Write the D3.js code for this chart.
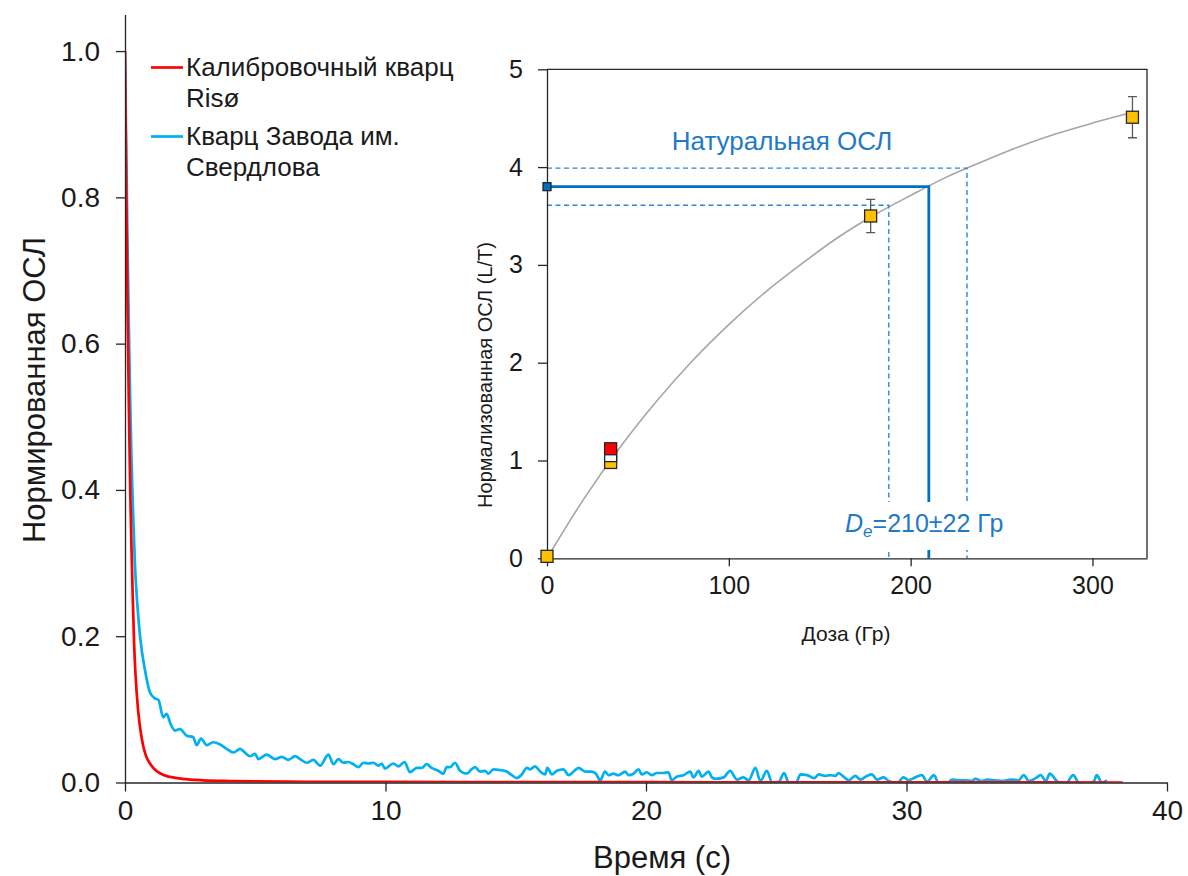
<!DOCTYPE html>
<html>
<head>
<meta charset="utf-8">
<script src="https://cdn.jsdelivr.net/npm/d3@7"></script>
<style>
  body { margin: 0; background: #fff; }
  text { font-family: "Liberation Sans", Arial, sans-serif; fill: #1a1a1a; }
</style>
</head>
<body>
<div id="chart"></div>
<script>
// ---- main chart data: OSL decay curves ----
var redT = [0, 0.05, 0.1, 0.15, 0.2, 0.25, 0.3, 0.35, 0.4, 0.5, 0.6, 0.7, 0.8, 1.0, 1.2, 1.5, 2, 2.5, 3, 4, 5, 7, 10, 15, 20, 25, 30, 35, 38.3];
var redV = [1.0, 0.80, 0.64, 0.51, 0.40, 0.32, 0.25, 0.19, 0.15, 0.10, 0.07, 0.05, 0.037, 0.024, 0.016, 0.010, 0.006, 0.004, 0.003, 0.002, 0.0015, 0.001, 0.0008, 0.0005, 0.0004, 0.0003, 0.0002, 0.0001, 0];

var blueT = [0, 0.05, 0.1, 0.15, 0.2, 0.25, 0.3, 0.38, 0.46, 0.58, 0.77, 0.96, 1.15, 1.28, 1.47, 1.6, 1.75, 1.92, 2.11, 2.37,
  2.62, 2.75, 2.92, 3.14, 3.39, 3.65, 3.9, 4.16, 4.42, 4.6, 4.8, 4.99, 5.12, 5.44, 5.76, 6.02, 6.27, 6.53, 6.72, 6.98,
  7.23, 7.49, 7.81, 8.0, 8.19, 8.38, 8.57, 8.77, 8.96, 9.15, 9.34, 9.53, 9.73, 9.85, 9.98, 10.3, 10.5, 10.73, 10.94, 11.2,
  11.39, 11.58, 11.77, 12.03, 12.22, 12.35, 12.48, 12.67, 12.86, 13.12, 13.3, 13.44, 13.63, 13.82, 13.95, 14.14, 14.4, 14.65, 14.85, 15.04,
  15.23, 15.43, 15.55, 15.74, 15.94, 16.13, 16.21, 16.39, 16.58, 16.83, 17.03, 17.22, 17.41, 17.67, 17.92, 18.08, 18.24, 18.43, 18.56, 18.75,
  18.94, 19.2, 19.33, 19.52, 19.71, 19.84, 20.03, 20.22, 20.42, 20.67, 20.86, 20.99, 21.18, 21.44, 21.7, 21.82, 22.02, 22.14, 22.4, 22.53,
  22.66, 22.98, 23.23, 23.49, 23.74, 23.94, 24.2, 24.39, 24.64, 24.84, 25.1, 25.3, 25.5, 25.74, 25.93, 26.19, 26.45, 26.64, 26.88, 27.07,
  27.27, 27.39, 27.58, 27.78, 28.03, 28.23, 28.48, 28.67, 28.87, 29.12, 29.32, 29.63, 29.89, 30.08, 30.34, 30.59, 30.79, 31.05, 31.24, 31.56,
  31.75, 32.0, 32.26, 32.5, 32.64, 32.9, 33.1, 33.4, 33.7, 34.0, 34.3, 34.5, 34.7, 34.96, 35.15, 35.35, 35.5, 35.8, 36.1, 36.4,
  36.6, 36.9, 37.2, 37.3, 37.5, 37.7];
var blueV = [1.0, 0.86, 0.73, 0.62, 0.52, 0.44, 0.38, 0.30, 0.25, 0.199, 0.153, 0.123, 0.115, 0.113, 0.089, 0.094, 0.080, 0.071, 0.073, 0.064,
  0.062, 0.051, 0.060, 0.051, 0.055, 0.052, 0.046, 0.041, 0.046, 0.041, 0.036, 0.039, 0.032, 0.038, 0.032, 0.035, 0.031, 0.036, 0.032, 0.027,
  0.031, 0.023, 0.038, 0.025, 0.032, 0.027, 0.028, 0.025, 0.021, 0.027, 0.026, 0.027, 0.023, 0.026, 0.019, 0.026, 0.022, 0.028, 0.014, 0.020,
  0.020, 0.025, 0.020, 0.016, 0.012, 0.021, 0.021, 0.027, 0.016, 0.012, 0.018, 0.021, 0.015, 0.016, 0.012, 0.018, 0.017, 0.015, 0.010, 0.006,
  0.011, 0.020, 0.018, 0.022, 0.015, 0.011, 0.020, 0.011, 0.016, 0.018, 0.010, 0.015, 0.020, 0.015, 0.015, 0.012, 0.003, 0.015, 0.010, 0.012,
  0.010, 0.015, 0.010, 0.012, 0.018, 0.011, 0.014, 0.010, 0.013, 0.013, 0.014, 0.003, 0.008, 0.010, 0.015, 0.007, 0.016, 0.008, 0.015, 0.007,
  0.005, 0.007, 0.016, 0.004, 0.007, 0.003, 0.020, 0.002, 0.016, 0.000, 0.001, 0.013, -0.002, -0.002, 0.011, 0.010, 0.006, 0.011, 0.009, 0.010,
  0.009, 0.013, 0.008, 0.003, 0.009, 0.004, 0.009, 0.011, 0.004, 0.007, 0.002, -0.001, 0.007, 0.003, 0.007, 0.010, 0.001, 0.010, -0.001, -0.001,
  0.004, 0.003, 0.003, 0.002, 0.005, 0.002, 0.004, 0.003, 0.002, 0.004, 0.003, 0.010, 0.002, 0.006, 0.010, 0.002, 0.012, 0.001, -0.002, 0.010,
  0.000, -0.003, 0.002, 0.010, 0.000, 0.003];

var mainXTicks = [0, 10, 20, 30, 40];
var mainYTicks = [0, 0.2, 0.4, 0.6, 0.8, 1.0];
var legendNames = [["Калибровочный кварц", "Risø"], ["Кварц Завода им.", "Свердлова"]];

// ---- inset data: dose response ----
var fitDose = [0, 20, 40, 60, 80, 100, 120, 140, 160, 180, 200, 220, 240, 260, 280, 300, 322];
var fitLn = [0, 0.60, 1.13, 1.60, 2.02, 2.39, 2.72, 3.01, 3.28, 3.51, 3.71, 3.90, 4.06, 4.21, 4.34, 4.45, 4.56];

var ptDose = [0, 35, 35, 35, 178, 322];
var ptLn = [0.02, 0.98, 1.05, 1.12, 3.50, 4.51];
var ptErr = [0, 0, 0, 0, 0.17, 0.21];
var ptKind = ["regen", "regen", "recycle", "repeat", "regen", "regen"];

var natLn = 3.80, natLnLow = 3.61, natLnHigh = 3.99;
var deDose = 210, deLow = 188, deHigh = 231, deErr = 22;

var insetXTicks = [0, 100, 200, 300];
var insetYTicks = [0, 1, 2, 3, 4, 5];

// ---- svg ----
var svg = d3.select("#chart").append("svg")
  .attr("width", 1188)
  .attr("height", 876);

var x = d3.scaleLinear().domain([0, 40]).range([125, 1167]);
var y = d3.scaleLinear().domain([0, 1.05]).range([782.5, 14.5]);

svg.append("clipPath").attr("id", "mainClip")
  .append("rect").attr("x", 125).attr("y", 0).attr("width", 1042).attr("height", 782.5);

var line = d3.line().x(d => x(d[0])).y(d => y(d[1])).curve(d3.curveMonotoneX);

var blueData = blueT.map((t, i) => [t, blueV[i]]);
var redData = redT.map((t, i) => [t, redV[i]]);

svg.append("path")
  .attr("d", line(blueData))
  .attr("clip-path", "url(#mainClip)")
  .attr("fill", "none")
  .attr("stroke", "#00b0f0")
  .attr("stroke-width", 2.7)
  .attr("stroke-linejoin", "round");

svg.append("path")
  .attr("d", line(redData))
  .attr("clip-path", "url(#mainClip)")
  .attr("fill", "none")
  .attr("stroke", "#ff0000")
  .attr("stroke-width", 2.7)
  .attr("stroke-linejoin", "round");

// main axes
var xAxis = svg.append("g")
  .attr("transform", "translate(0,782.5)")
  .call(d3.axisBottom(x).tickValues(mainXTicks).tickFormat(d3.format("d")).tickSize(9).tickSizeOuter(0).tickPadding(9));
var yAxis = svg.append("g")
  .attr("transform", "translate(125,0)")
  .call(d3.axisLeft(y).tickValues(mainYTicks).tickFormat(d3.format(".1f")).tickSize(9).tickSizeOuter(0).tickPadding(16));

[xAxis, yAxis].forEach(function(g) {
  g.selectAll("path, line").attr("stroke", "#262626").attr("stroke-width", 1.3);
  g.selectAll("text").attr("font-size", 28).attr("fill", "#1a1a1a")
    .style("font-family", "'Liberation Sans', Arial, sans-serif");
});

svg.append("text")
  .attr("x", 662).attr("y", 868)
  .attr("text-anchor", "middle")
  .attr("font-size", 31)
  .text("Время (с)");

svg.append("text")
  .attr("transform", "translate(45,390) rotate(-90)")
  .attr("text-anchor", "middle")
  .attr("font-size", 31)
  .text("Нормированная ОСЛ");

// legend
var legendColors = ["#ff0000", "#00b0f0"];
var legendY = [67.5, 136.5];
legendNames.forEach(function(names, i) {
  svg.append("line")
    .attr("x1", 151).attr("x2", 183)
    .attr("y1", legendY[i]).attr("y2", legendY[i])
    .attr("stroke", legendColors[i]).attr("stroke-width", 2.7);
  names.forEach(function(nm, j) {
    svg.append("text")
      .attr("x", 186).attr("y", legendY[i] + 8 + j * 31)
      .attr("font-size", 26)
      .text(nm);
  });
});

// ---- inset ----
var ix = d3.scaleLinear().domain([0, 330]).range([547, 1147]);
var iy = d3.scaleLinear().domain([0, 5]).range([558.3, 69.3]);

var inset = svg.append("g");

inset.append("rect")
  .attr("x", ix(0)).attr("y", iy(5))
  .attr("width", ix(330) - ix(0)).attr("height", iy(0) - iy(5))
  .attr("fill", "#fff");

// fitted dose response
var fitLine = d3.line().x(d => ix(d[0])).y(d => iy(d[1])).curve(d3.curveMonotoneX);
inset.append("path")
  .attr("d", fitLine(fitDose.map((d, i) => [d, fitLn[i]])))
  .attr("fill", "none")
  .attr("stroke", "#a6a6a6")
  .attr("stroke-width", 1.6);

// dashed error lines
var dashColor = "#2e86d6";
[[natLnHigh, deHigh], [natLnLow, deLow]].forEach(function(p) {
  inset.append("path")
    .attr("d", "M" + ix(0) + "," + iy(p[0]) + "H" + ix(p[1]) + "V" + iy(0))
    .attr("fill", "none")
    .attr("stroke", dashColor)
    .attr("stroke-width", 1.4)
    .attr("stroke-dasharray", "5,3.5");
});

// solid De line
inset.append("path")
  .attr("d", "M" + ix(0) + "," + iy(natLn) + "H" + ix(deDose) + "V" + iy(0))
  .attr("fill", "none")
  .attr("stroke", "#0070c0")
  .attr("stroke-width", 2.8);

// De label with white background
var deG = inset.append("g");
deG.append("rect")
  .attr("x", 842).attr("y", 502)
  .attr("width", 172).attr("height", 48)
  .attr("fill", "#fff");
var deText = deG.append("text")
  .attr("x", 845).attr("y", 532)
  .attr("font-size", 25)
  .style("fill", "#1f7ac6");
deText.append("tspan").attr("font-style", "italic").text("D");
deText.append("tspan").attr("font-style", "italic").attr("font-size", 17).attr("dy", 5).text("e");
deText.append("tspan").attr("dy", -5).text("=" + deDose + "±" + deErr + " Гр");

inset.append("text")
  .attr("x", 782).attr("y", 150)
  .attr("text-anchor", "middle")
  .attr("font-size", 26)
  .style("fill", "#1f7ac6")
  .text("Натуральная ОСЛ");

// frame + axes
var ixAxis = inset.append("g")
  .attr("transform", "translate(0," + iy(0) + ")")
  .call(d3.axisBottom(ix).tickValues(insetXTicks).tickFormat(d3.format("d")).tickSize(8).tickSizeOuter(0).tickPadding(10));
var iyAxis = inset.append("g")
  .attr("transform", "translate(" + ix(0) + ",0)")
  .call(d3.axisLeft(iy).tickValues(insetYTicks).tickFormat(d3.format("d")).tickSize(9).tickSizeOuter(0).tickPadding(15));
[ixAxis, iyAxis].forEach(function(g) {
  g.selectAll("path, line").attr("stroke", "#262626").attr("stroke-width", 1.3);
  g.selectAll("text").attr("font-size", 25).attr("fill", "#1a1a1a")
    .style("font-family", "'Liberation Sans', Arial, sans-serif");
});
inset.append("path")
  .attr("d", "M" + ix(0) + "," + iy(5) + "H" + ix(330) + "V" + iy(0))
  .attr("fill", "none")
  .attr("stroke", "#262626")
  .attr("stroke-width", 1.3);

inset.append("text")
  .attr("x", 846).attr("y", 641)
  .attr("text-anchor", "middle")
  .attr("font-size", 21)
  .text("Доза (Гр)");

inset.append("text")
  .attr("transform", "translate(492,375) rotate(-90)")
  .attr("text-anchor", "middle")
  .attr("font-size", 20)
  .text("Нормализованная ОСЛ (L/T)");

// error bars
ptDose.forEach(function(d, i) {
  if (ptErr[i] <= 0) return;
  var cx = ix(d);
  var y1 = iy(ptLn[i] - ptErr[i]), y2 = iy(ptLn[i] + ptErr[i]);
  inset.append("path")
    .attr("d", "M" + cx + "," + y1 + "V" + y2 + "M" + (cx - 4.5) + "," + y1 + "H" + (cx + 4.5) + "M" + (cx - 4.5) + "," + y2 + "H" + (cx + 4.5))
    .attr("fill", "none")
    .attr("stroke", "#595959")
    .attr("stroke-width", 1.3);
});

// regenerated points
var kindFill = { regen: "#ffc000", recycle: "#ffffff", repeat: "#ff0000" };
var sq = 12;
inset.selectAll("rect.pt")
  .data(ptDose.map((d, i) => ({ dose: d, ln: ptLn[i], kind: ptKind[i] })))
  .enter()
  .append("rect")
  .attr("class", "pt")
  .attr("x", d => ix(d.dose) - sq / 2)
  .attr("y", d => iy(d.ln) - sq / 2)
  .attr("width", sq).attr("height", sq)
  .attr("fill", d => kindFill[d.kind])
  .attr("stroke", "#262626")
  .attr("stroke-width", 1.3);

// natural point
inset.append("rect")
  .attr("x", ix(0) - 4).attr("y", iy(natLn) - 4)
  .attr("width", 8).attr("height", 8)
  .attr("fill", "#0070c0")
  .attr("stroke", "#1a1a1a")
  .attr("stroke-width", 1.2);
</script>
</body>
</html>
